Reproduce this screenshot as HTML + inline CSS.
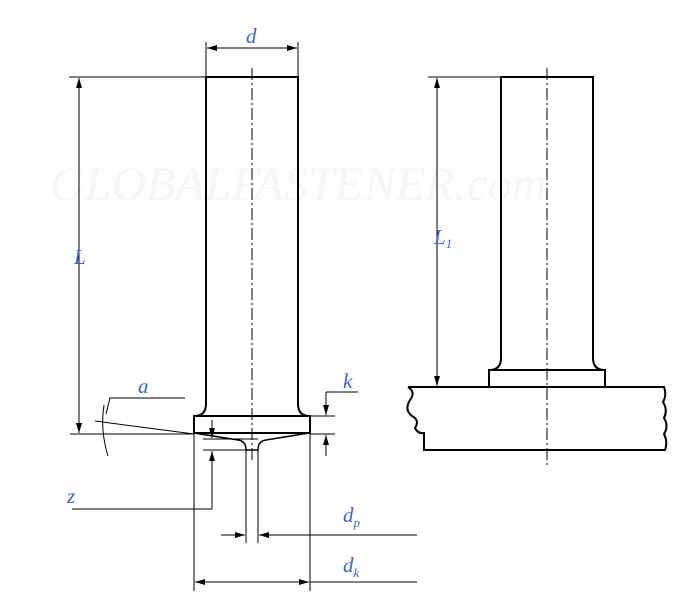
<!DOCTYPE html>
<html><head><style>html,body{margin:0;padding:0;background:#fff}svg{display:block}
text{font-family:"Liberation Serif",serif;font-style:italic;fill:#3a5fd9;font-size:21px}</style></head>
<body>
<svg width="700" height="600" viewBox="0 0 700 600" xmlns="http://www.w3.org/2000/svg">
<defs>
<marker id="ar" viewBox="0 0 10 6" refX="10" refY="3" markerWidth="10" markerHeight="6" orient="auto-start-reverse" markerUnits="userSpaceOnUse"><path d="M0,0 L10,3 L0,6 z" fill="#000"/></marker>
</defs>
<text x="50" y="200" style="font-size:48px;fill:#f6f6f6" font-style="italic">GLOBALFASTENER.com</text>
<g fill="none" stroke="#000">
<!-- left stud -->
<path d="M206,77 H298 V404 Q298,416 310,416 V433 H194 V416 Q206,416 206,404 Z" stroke-width="2"/>
<line x1="194" y1="416" x2="310" y2="416" stroke-width="2"/>
<path d="M194,433 L238,440 Q246,441 246,450 H258 Q258,441 266,440 L309,433" stroke-width="1.5"/>
<line x1="252" y1="68" x2="252" y2="462" stroke-width="1" stroke-dasharray="12,3,2,3"/>
<!-- right stud -->
<path d="M501,77 H593 V358 Q593,370 605,370 V387 H489 V370 Q501,370 501,358 Z" stroke-width="2"/>
<line x1="489" y1="370" x2="605" y2="370" stroke-width="2"/>
<path d="M408,387 H664 Q667,395 663,402 Q668,410 664,418 Q669,426 664,434 Q668,442 665,450 H424 L424,433 Q418,434 415,428 Q420,420 412,416 Q404,410 410,400 Q416,392 408,387" stroke-width="2"/>
<line x1="547" y1="68" x2="547" y2="465" stroke-width="1" stroke-dasharray="12,3,2,3"/>
<!-- dims -->
<g stroke-width="1">
<line x1="69" y1="77" x2="206" y2="77"/><line x1="70" y1="434" x2="194" y2="434"/>
<line x1="79" y1="78" x2="79" y2="433" marker-start="url(#ar)" marker-end="url(#ar)"/>
<line x1="206" y1="42" x2="206" y2="77"/><line x1="298" y1="42" x2="298" y2="77"/>
<line x1="207" y1="48" x2="297" y2="48" marker-start="url(#ar)" marker-end="url(#ar)"/>
<line x1="428" y1="77" x2="501" y2="77"/>
<line x1="437" y1="78" x2="437" y2="386" marker-start="url(#ar)" marker-end="url(#ar)"/>
<line x1="310" y1="416" x2="335" y2="416"/><line x1="310" y1="434" x2="335" y2="434"/>
<line x1="358" y1="392" x2="326" y2="392"/>
<line x1="326" y1="392" x2="326" y2="415" marker-end="url(#ar)"/>
<line x1="326" y1="456" x2="326" y2="435" marker-end="url(#ar)"/>
<line x1="95" y1="421" x2="194" y2="434"/>
<polyline points="185,398 110,398 106,414"/>
<path d="M104,405 Q100,430 108,456"/>
<line x1="203" y1="439" x2="258" y2="439"/><line x1="203" y1="450" x2="246" y2="450"/>
<line x1="212" y1="420" x2="212" y2="438" marker-end="url(#ar)"/>
<polyline points="72,509 212,509 212,451" marker-end="url(#ar)"/>
<line x1="246" y1="450" x2="246" y2="543"/><line x1="258" y1="450" x2="258" y2="543"/>
<line x1="221" y1="535" x2="245" y2="535" marker-end="url(#ar)"/>
<line x1="417" y1="535" x2="259" y2="535" marker-end="url(#ar)"/>
<line x1="194" y1="434" x2="194" y2="591"/><line x1="310" y1="434" x2="310" y2="591"/>
<line x1="195" y1="582" x2="309" y2="582" marker-start="url(#ar)" marker-end="url(#ar)"/>
<line x1="310" y1="582" x2="417" y2="582"/>
</g>
</g>
<text x="246" y="43">d</text>
<text x="74" y="264">L</text>
<text x="434" y="244">L<tspan font-size="13" dy="4">1</tspan></text>
<text x="343" y="388">k</text>
<text x="138" y="393">a</text>
<text x="67" y="503">z</text>
<text x="343" y="522">d<tspan font-size="13" dy="5">p</tspan></text>
<text x="343" y="572">d<tspan font-size="13" dy="5">k</tspan></text>
</svg>
</body></html>
